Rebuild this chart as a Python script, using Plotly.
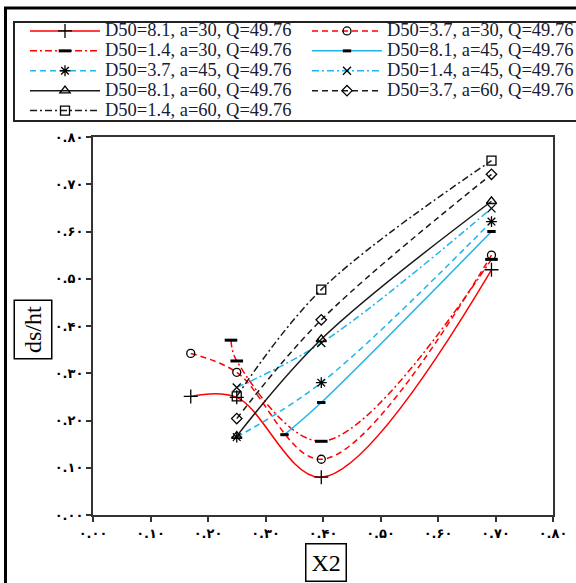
import plotly.graph_objects as go

# ---- data ----
names = [
    "D50=8.1, a=30, Q=49.76", "D50=3.7, a=30, Q=49.76",
    "D50=1.4, a=30, Q=49.76", "D50=8.1, a=45, Q=49.76",
    "D50=3.7, a=45, Q=49.76", "D50=1.4, a=45, Q=49.76",
    "D50=8.1, a=60, Q=49.76", "D50=3.7, a=60, Q=49.76",
    "D50=1.4, a=60, Q=49.76",
]
s1_x = [0.17, 0.25, 0.397, 0.693]; s1_y = [0.251, 0.249, 0.080, 0.519]
s2_x = [0.17, 0.25, 0.397, 0.693]; s2_y = [0.342, 0.302, 0.118, 0.550]
s3_x = [0.24, 0.25, 0.397, 0.693]; s3_y = [0.370, 0.326, 0.156, 0.541]
s4_x = [0.333, 0.397, 0.693];      s4_y = [0.170, 0.238, 0.600]
s5_x = [0.25, 0.397, 0.693];       s5_y = [0.165, 0.280, 0.621]
s6_x = [0.25, 0.397, 0.693];       s6_y = [0.270, 0.364, 0.649]
s7_x = [0.25, 0.397, 0.693];       s7_y = [0.167, 0.372, 0.664]
s8_x = [0.25, 0.397, 0.693];       s8_y = [0.204, 0.413, 0.721]
s9_x = [0.25, 0.397, 0.693];       s9_y = [0.251, 0.477, 0.750]

tick_vals = [0.0, 0.1, 0.2, 0.3, 0.4, 0.5, 0.6, 0.7, 0.8]
tick_text = ["۰.۰۰", "۰.۱۰", "۰.۲۰", "۰.۳۰", "۰.۴۰", "۰.۵۰", "۰.۶۰", "۰.۷۰", "۰.۸۰"]

xs = [s1_x, s2_x, s3_x, s4_x, s5_x, s6_x, s7_x, s8_x, s9_x]
ys = [s1_y, s2_y, s3_y, s4_y, s5_y, s6_y, s7_y, s8_y, s9_y]

# ---- styles ----
RED = "#FF0000"
BLUE = "#1FB5EC"
BLK = "#1a1a1a"
DASH = "6px,4px"
DASHDOT = "7px,3px,2px,3px"
styles = [
    (RED, "solid", "cross-thin-open", 10),
    (RED, DASH, "circle-open", 8),
    (RED, DASHDOT, "line-ew-open", 9),
    (BLUE, "solid", "line-ew-open", 6),
    (BLUE, DASH, "asterisk-open", 9),
    (BLUE, DASHDOT, "x-thin-open", 8),
    (BLK, "solid", "triangle-up-open", 9),
    (BLK, DASH, "diamond-open", 8),
    (BLK, DASHDOT, "square-open", 9),
]

fig = go.Figure()
for i, (x, y) in enumerate(zip(xs, ys)):
    col, dash, sym, sz = styles[i]
    mw = 3 if sym.startswith("line-ew") else 1.3
    fig.add_trace(go.Scatter(
        x=x, y=y,
        name='<span style="font-size:18.5px">' + names[i] + '</span>',
        mode="lines+markers",
        legend="legend" if i % 2 == 0 else "legend2",
        line=dict(color=col, width=1.5, dash=dash, shape="spline", smoothing=1.0),
        marker=dict(symbol=sym, size=sz, color="black",
                    line=dict(color="black", width=mw)),
    ))

W, H = 576, 583
L, R, T, B = 93, 23, 137, 68
pw, ph = W - L - R, H - T - B


def px(xp):
    return (xp - L) / pw


def py(yp):
    return (H - B - yp) / ph


leg_common = dict(
    orientation="v", yanchor="top", xanchor="left",
    itemwidth=70, font=dict(family="Liberation Serif", size=13, color="#1a1a33"),
    borderwidth=0, bgcolor="rgba(0,0,0,0)", tracegroupgap=0,
    itemclick=False, itemdoubleclick=False,
)

tickfont = dict(family="DejaVu Sans", size=13, color="black", weight="bold")
axis_common = dict(
    range=[0, 0.8], tickvals=tick_vals, ticktext=tick_text,
    showgrid=False, zeroline=False, showline=True, linecolor="#333",
    linewidth=2, mirror=True, ticks="outside", ticklen=5, tickwidth=1.5,
    tickcolor="#333", tickfont=tickfont,
)

fig.update_layout(
    width=W, height=H,
    margin=dict(l=L, r=R, t=T, b=B, autoexpand=False),
    paper_bgcolor="white", plot_bgcolor="white",
    font=dict(family="Liberation Serif", color="black"),
    showlegend=True,
    legend=dict(x=px(25), y=py(16), **leg_common),
    legend2=dict(x=px(307), y=py(16), **leg_common),
    xaxis=axis_common,
    yaxis=axis_common,
    annotations=[
        dict(text="ds/ht", textangle=-90, xref="paper", yref="paper",
             x=px(33), y=py(329.5), xanchor="center", yanchor="middle",
             showarrow=False,
             font=dict(family="Liberation Serif", size=24, color="black"),
             bordercolor="black", borderwidth=1.5, borderpad=5, bgcolor="white"),
        dict(text="X2", xref="paper", yref="paper",
             x=px(325.5), y=py(562.5), xanchor="center", yanchor="middle",
             showarrow=False,
             font=dict(family="Liberation Serif", size=24, color="black"),
             bordercolor="black", borderwidth=1.5, borderpad=5, bgcolor="white"),
    ],
    shapes=[
        # outer frame (left and top edges)
        dict(type="line", xref="paper", yref="paper",
             x0=px(5.5), x1=px(5.5), y0=py(7), y1=py(600),
             line=dict(color="black", width=3)),
        dict(type="line", xref="paper", yref="paper",
             x0=px(4), x1=px(600), y0=py(8), y1=py(8),
             line=dict(color="black", width=3)),
        # legend box
        dict(type="rect", xref="paper", yref="paper",
             x0=px(14), x1=px(600), y0=py(121), y1=py(22),
             line=dict(color="#222", width=2), layer="below"),
    ],
)

fig.write_html("out.html")
